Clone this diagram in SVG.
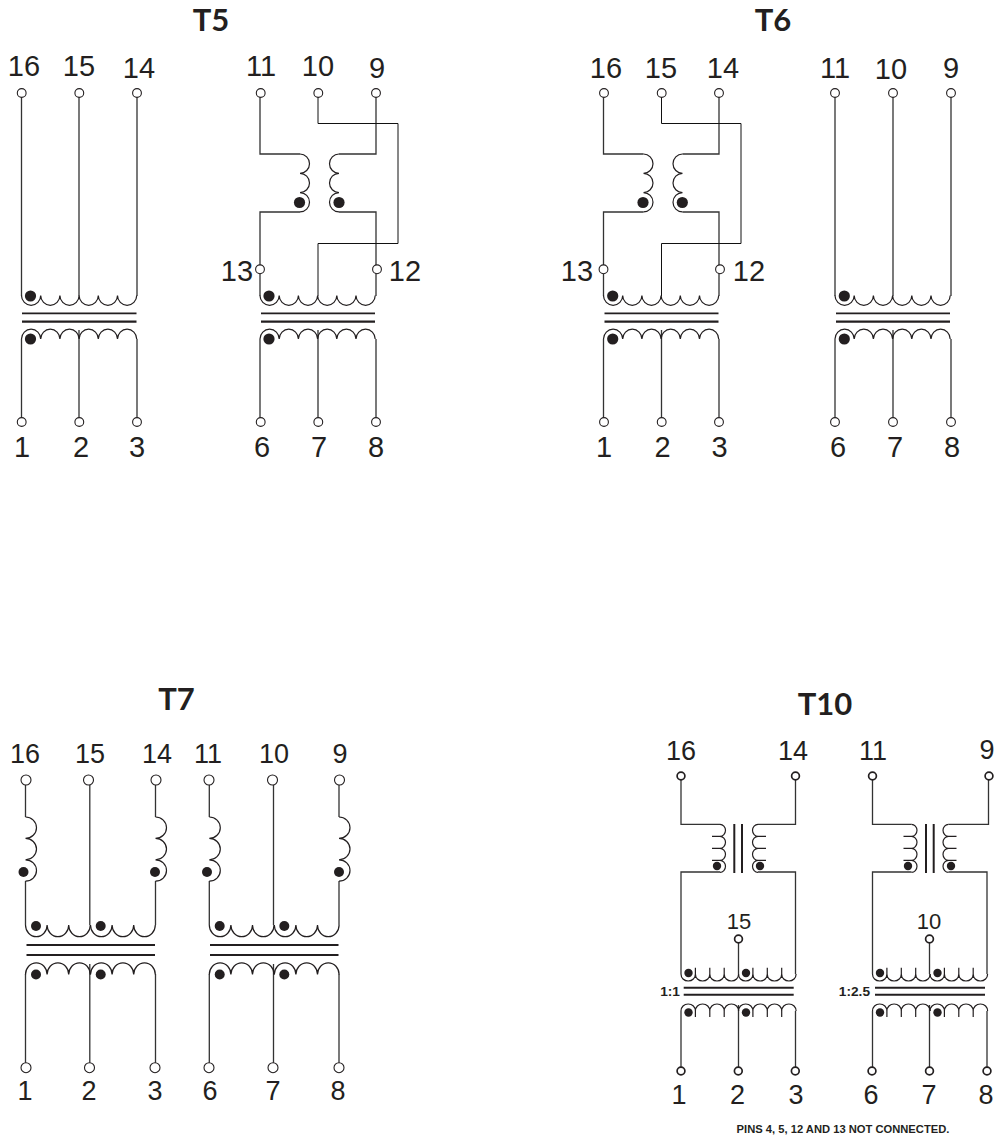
<svg xmlns="http://www.w3.org/2000/svg" width="997" height="1137" viewBox="0 0 997 1137">
<style>
text{fill:#231f20;font-family:"Liberation Sans",Arial,sans-serif;text-anchor:middle}
.l{font-size:29px}.m{font-size:27px}.s{font-size:22px}
.t{font-family:Lato,"Liberation Sans",sans-serif;font-weight:700;font-size:31px}
.b{font-weight:700;font-size:13.7px;text-anchor:end}
.n{font-weight:700;font-size:11.2px}
path,line{fill:none;stroke:#231f20;stroke-width:1.2}
.w{stroke:#333;stroke-width:1.3}
.x{stroke:#111;stroke-width:1}
.bar{stroke-width:2}.bar1{stroke-width:1.7}.bart{stroke-width:2.2}
circle{fill:#fff;stroke:#231f20;stroke-width:1.1}
.h{stroke-width:1.7}
.d{fill:#231f20;stroke:none}
</style>
<defs>
<path id="wd" d="M0,0c0,5.4 4.3,9.8 9.6,9.8s9.6,-4.4 9.6,-9.8c0,5.4 4.3,9.8 9.6,9.8s9.6,-4.4 9.6,-9.8c0,5.4 4.3,9.8 9.6,9.8s9.6,-4.4 9.6,-9.8c0,5.4 4.3,9.8 9.6,9.8s9.6,-4.4 9.6,-9.8c0,5.4 4.3,9.8 9.6,9.8s9.6,-4.4 9.6,-9.8c0,5.4 4.3,9.8 9.6,9.8s9.6,-4.4 9.6,-9.8"/>
<path id="wu" d="M0,0c0,-5.4 4.3,-9.8 9.6,-9.8s9.6,4.4 9.6,9.8c0,-5.4 4.3,-9.8 9.6,-9.8s9.6,4.4 9.6,9.8c0,-5.4 4.3,-9.8 9.6,-9.8s9.6,4.4 9.6,9.8c0,-5.4 4.3,-9.8 9.6,-9.8s9.6,4.4 9.6,9.8c0,-5.4 4.3,-9.8 9.6,-9.8s9.6,4.4 9.6,9.8c0,-5.4 4.3,-9.8 9.6,-9.8s9.6,4.4 9.6,9.8"/>
<path id="cr" d="M0,0c5.2,0 9.5,4.3 9.5,9.65s-4.3,9.65 -9.5,9.65c5.2,0 9.5,4.3 9.5,9.65s-4.3,9.65 -9.5,9.65c5.2,0 9.5,4.3 9.5,9.65s-4.3,9.65 -9.5,9.65"/>
<path id="cl" d="M0,0c-5.2,0 -9.5,4.3 -9.5,9.65s4.3,9.65 9.5,9.65c-5.2,0 -9.5,4.3 -9.5,9.65s4.3,9.65 9.5,9.65c-5.2,0 -9.5,4.3 -9.5,9.65s4.3,9.65 9.5,9.65"/>
<path id="w7d" d="M0,0c0,6.4 4.8,11.7 10.8,11.7s10.8,-5.3 10.8,-11.7c0,6.4 4.8,11.7 10.8,11.7s10.8,-5.3 10.8,-11.7c0,6.4 4.8,11.7 10.8,11.7s10.8,-5.3 10.8,-11.7"/>
<path id="w7u" d="M0,0c0,-6.4 4.8,-11.7 10.8,-11.7s10.8,5.3 10.8,11.7c0,-6.4 4.8,-11.7 10.8,-11.7s10.8,5.3 10.8,11.7c0,-6.4 4.8,-11.7 10.8,-11.7s10.8,5.3 10.8,11.7"/>
<path id="c7" d="M0,0c6,0 11,4.8 11,10.7s-5,10.7 -11,10.7c6,0 11,4.8 11,10.7s-5,10.7 -11,10.7c6,0 11,4.8 11,10.7s-5,10.7 -11,10.7"/>
<path id="w10d" d="M0,0c0,4 3,7 7.2,7s7.2,-3 7.2,-7V-6.3V0c0,4 3,7 7.2,7s7.2,-3 7.2,-7V-6.3V0c0,4 3,7 7.2,7s7.2,-3 7.2,-7V-6.3V0c0,4 3,7 7.2,7s7.2,-3 7.2,-7"/>
<path id="w10u" d="M0,0c0,-4 3,-7 7.2,-7s7.2,3 7.2,7V6V0c0,-4 3,-7 7.2,-7s7.2,3 7.2,7V6V0c0,-4 3,-7 7.2,-7s7.2,3 7.2,7V6V0c0,-4 3,-7 7.2,-7s7.2,3 7.2,7"/>
<path id="c10r" d="M0,0c3,0 5.5,2.7 5.5,6s-2.5,6 -5.5,6H-8H0c3,0 5.5,2.7 5.5,6s-2.5,6 -5.5,6H-8H0c3,0 5.5,2.7 5.5,6s-2.5,6 -5.5,6H-8H0c3,0 5.5,2.7 5.5,6s-2.5,6 -5.5,6"/>
<path id="c10l" d="M0,0c-3,0 -5.5,2.7 -5.5,6s2.5,6 5.5,6H8H0c-3,0 -5.5,2.7 -5.5,6s2.5,6 5.5,6H8H0c-3,0 -5.5,2.7 -5.5,6s2.5,6 5.5,6H8H0c-3,0 -5.5,2.7 -5.5,6s2.5,6 5.5,6"/>
</defs>
<rect width="997" height="1137" fill="#fff"/>

<g id="connectors">
<path class="w" d="M21.5,97V296M79,97V296M137,97V296M21.5,339V418M79,330V418M137,339V418"/>
<path class="w" d="M260,97V154H300M376,97V154H339M300,212H260V296M339,212H376V296M260,339V418M318,330V418M376,339V418"/>
<path class="x" d="M318,97V123.5H398V243.5H318V296"/>
<path class="w" d="M603.5,97V154H643.5M719,97V154H682.5M643.5,212H603.5V296M682.5,212H719V296M603.5,339V418M661.5,330V418M719,339V418"/>
<path class="x" d="M661.5,97V123.5H741V243.5H661.5V296"/>
<path class="w" d="M835,97V296M893,97V296M951,97V296M835,339V418M893,330V418M951,339V418"/>
<path class="w" d="M25.5,785V817M25.5,881V925M89.8,785V925M155.5,785V817M155.5,881V925M25.5,974V1063M89.8,964V1063M155.5,974V1063"/>
<path class="w" d="M209.3,785V817M209.3,881V925M273.5,785V925M339,785V817M339,881V925M209.3,974V1063M273.5,964V1063M339,974V1063"/>
<path class="w" d="M681,780V824.3H720M795.5,780V824.3H758M720,872H681V974M758,872H795.5V974M738.5,943V974M681,1011V1067M738.5,1005V1067M795.5,1011V1067"/>
<path class="w" d="M872.5,780V824.3H911.5M988.5,780V824.3H948.5M911.5,872H872.5V974M948.5,872H987V974M929.5,943V974M872.5,1011V1067M929.5,1005V1067M987,1011V1067"/>
</g>

<g id="T5">
<text class="t" x="211" y="30.7">T5</text>
<g id="T5-left-transformer">
<use href="#wd" x="21.5" y="295.5"/><use href="#wu" x="21.5" y="339"/>
<line class="bar1" x1="22" y1="313.3" x2="136.5" y2="313.3"/><line class="bart" x1="22" y1="321.7" x2="136.5" y2="321.7"/>
<circle class="d" cx="30.5" cy="296" r="5.6"/><circle class="d" cx="30.5" cy="339" r="5.6"/>
</g>
<g id="T5-right-transformer">
<use href="#cr" x="300" y="154"/><use href="#cl" x="339" y="154"/>
<circle class="d" cx="299.5" cy="202.5" r="5.6"/><circle class="d" cx="339" cy="202.5" r="5.6"/>
<use href="#wd" x="260" y="295.5"/><use href="#wu" x="260" y="339"/>
<line class="bar1" x1="261" y1="313.3" x2="375" y2="313.3"/><line class="bart" x1="261" y1="321.7" x2="375" y2="321.7"/>
<circle class="d" cx="269" cy="296" r="5.6"/><circle class="d" cx="269" cy="339" r="5.6"/>
</g>
<g id="T5-p16"><circle cx="21.7" cy="93" r="4.4"/><text class="l" x="24" y="76">16</text></g>
<g id="T5-p15"><circle cx="79.3" cy="93" r="4.4"/><text class="l" x="79" y="76">15</text></g>
<g id="T5-p14"><circle cx="137" cy="93" r="4.4"/><text class="l" x="139" y="78">14</text></g>
<g id="T5-p11"><circle cx="260.7" cy="93" r="4.4"/><text class="l" x="261" y="76">11</text></g>
<g id="T5-p10"><circle cx="318.3" cy="93" r="4.4"/><text class="l" x="318" y="76">10</text></g>
<g id="T5-p9"><circle cx="376" cy="93" r="4.4"/><text class="l" x="377" y="78">9</text></g>
<g id="T5-p13"><circle cx="260" cy="269.3" r="4.4"/><text class="l" x="237" y="281">13</text></g>
<g id="T5-p12"><circle cx="377" cy="269.3" r="4.4"/><text class="l" x="405" y="281">12</text></g>
<g id="T5-p1"><circle cx="21.7" cy="422" r="4.4"/><text class="l" x="22" y="457">1</text></g>
<g id="T5-p2"><circle cx="79.3" cy="422" r="4.4"/><text class="l" x="81" y="457">2</text></g>
<g id="T5-p3"><circle cx="137" cy="422" r="4.4"/><text class="l" x="137" y="457">3</text></g>
<g id="T5-p6"><circle cx="260.7" cy="422" r="4.4"/><text class="l" x="262" y="457">6</text></g>
<g id="T5-p7"><circle cx="318.3" cy="422" r="4.4"/><text class="l" x="319" y="457">7</text></g>
<g id="T5-p8"><circle cx="376" cy="422" r="4.4"/><text class="l" x="376" y="457">8</text></g>
</g>

<g id="T6">
<text class="t" x="773" y="31">T6</text>
<g id="T6-left-transformer">
<use href="#cr" x="643.5" y="154"/><use href="#cl" x="682.5" y="154"/>
<circle class="d" cx="643" cy="202.5" r="5.6"/><circle class="d" cx="682.3" cy="202.5" r="5.6"/>
<use href="#wd" x="603.5" y="295.5"/><use href="#wu" x="603.5" y="339"/>
<line class="bar1" x1="604.5" y1="313.3" x2="718.5" y2="313.3"/><line class="bart" x1="604.5" y1="321.7" x2="718.5" y2="321.7"/>
<circle class="d" cx="612.7" cy="296" r="5.6"/><circle class="d" cx="612.7" cy="339" r="5.6"/>
</g>
<g id="T6-right-transformer">
<use href="#wd" x="835" y="295.5"/><use href="#wu" x="835" y="339"/>
<line class="bar1" x1="836" y1="313.3" x2="950" y2="313.3"/><line class="bart" x1="836" y1="321.7" x2="950" y2="321.7"/>
<circle class="d" cx="844.3" cy="296" r="5.6"/><circle class="d" cx="844.3" cy="339" r="5.6"/>
</g>
<g id="T6-p16"><circle cx="604" cy="93" r="4.4"/><text class="l" x="606" y="78">16</text></g>
<g id="T6-p15"><circle cx="661.7" cy="93" r="4.4"/><text class="l" x="661" y="78">15</text></g>
<g id="T6-p14"><circle cx="719" cy="93" r="4.4"/><text class="l" x="723" y="78">14</text></g>
<g id="T6-p11"><circle cx="835" cy="93" r="4.4"/><text class="l" x="835" y="78">11</text></g>
<g id="T6-p10"><circle cx="893" cy="93" r="4.4"/><text class="l" x="891" y="79">10</text></g>
<g id="T6-p9"><circle cx="951" cy="93" r="4.4"/><text class="l" x="951" y="78">9</text></g>
<g id="T6-p13"><circle cx="603.5" cy="269.3" r="4.4"/><text class="l" x="577" y="281">13</text></g>
<g id="T6-p12"><circle cx="720" cy="269.3" r="4.4"/><text class="l" x="749" y="281">12</text></g>
<g id="T6-p1"><circle cx="604" cy="422" r="4.4"/><text class="l" x="604" y="457">1</text></g>
<g id="T6-p2"><circle cx="661.7" cy="422" r="4.4"/><text class="l" x="662.5" y="457">2</text></g>
<g id="T6-p3"><circle cx="719" cy="422" r="4.4"/><text class="l" x="719.5" y="457">3</text></g>
<g id="T6-p6"><circle cx="835" cy="422" r="4.4"/><text class="l" x="838" y="457">6</text></g>
<g id="T6-p7"><circle cx="893" cy="422" r="4.4"/><text class="l" x="895" y="457">7</text></g>
<g id="T6-p8"><circle cx="951" cy="422" r="4.4"/><text class="l" x="952" y="457">8</text></g>
</g>

<g id="T7">
<text class="t" x="176.5" y="710">T7</text>
<g id="T7-left-transformer">
<use href="#c7" x="25.5" y="817"/><use href="#c7" x="155.5" y="817"/>
<circle class="d" cx="23.5" cy="872" r="5"/><circle class="d" cx="155" cy="872" r="5"/>
<use href="#w7d" x="25.5" y="925"/><use href="#w7d" x="90.5" y="925"/>
<use href="#w7u" x="25.5" y="974.5"/><use href="#w7u" x="90.5" y="974.5"/>
<line class="bar" x1="26.5" y1="945" x2="155" y2="945"/><line class="bar" x1="26.5" y1="955" x2="155" y2="955"/>
<circle class="d" cx="36" cy="926" r="5"/><circle class="d" cx="100.7" cy="926" r="5"/>
<circle class="d" cx="36" cy="974.5" r="5"/><circle class="d" cx="100.7" cy="974.5" r="5"/>
</g>
<g id="T7-right-transformer">
<use href="#c7" x="209.3" y="817"/><use href="#c7" x="339" y="817"/>
<circle class="d" cx="207" cy="872" r="5"/><circle class="d" cx="339" cy="872" r="5"/>
<use href="#w7d" x="209.3" y="925"/><use href="#w7d" x="274.3" y="925"/>
<use href="#w7u" x="209.3" y="974.5"/><use href="#w7u" x="274.3" y="974.5"/>
<line class="bar" x1="210" y1="945" x2="338.5" y2="945"/><line class="bar" x1="210" y1="955" x2="338.5" y2="955"/>
<circle class="d" cx="219.7" cy="926" r="5"/><circle class="d" cx="284.3" cy="926" r="5"/>
<circle class="d" cx="219.7" cy="974.5" r="5"/><circle class="d" cx="284.3" cy="974.5" r="5"/>
</g>
<g id="T7-p16"><circle cx="26" cy="780" r="5"/><text class="m" x="25" y="762.7">16</text></g>
<g id="T7-p15"><circle cx="88.5" cy="780" r="5"/><text class="m" x="90" y="762.7">15</text></g>
<g id="T7-p14"><circle cx="156" cy="780" r="5"/><text class="m" x="157" y="762.7">14</text></g>
<g id="T7-p11"><circle cx="209" cy="780" r="5"/><text class="m" x="208" y="762.7">11</text></g>
<g id="T7-p10"><circle cx="272.5" cy="780" r="5"/><text class="m" x="274" y="762.7">10</text></g>
<g id="T7-p9"><circle cx="339.5" cy="780" r="5"/><text class="m" x="340" y="762.7">9</text></g>
<g id="T7-p1"><circle cx="26" cy="1067.7" r="5"/><text class="m" x="25" y="1100">1</text></g>
<g id="T7-p2"><circle cx="89.5" cy="1067.7" r="5"/><text class="m" x="89" y="1100">2</text></g>
<g id="T7-p3"><circle cx="155" cy="1067.7" r="5"/><text class="m" x="155" y="1100">3</text></g>
<g id="T7-p6"><circle cx="209" cy="1067.7" r="5"/><text class="m" x="210" y="1100">6</text></g>
<g id="T7-p7"><circle cx="273" cy="1067.7" r="5"/><text class="m" x="273" y="1100">7</text></g>
<g id="T7-p8"><circle cx="339" cy="1067.7" r="5"/><text class="m" x="338" y="1100">8</text></g>
</g>

<g id="T10">
<text class="t" x="825" y="715">T10</text>
<g id="T10-left-transformer">
<use href="#c10r" x="720" y="824.3"/><use href="#c10l" x="758" y="824.3"/>
<line class="bar" x1="734.3" y1="824" x2="734.3" y2="873"/><line class="bar" x1="742" y1="824" x2="742" y2="873"/>
<circle class="d" cx="717" cy="866" r="4.2"/><circle class="d" cx="760" cy="866" r="4.2"/>
<use href="#w10d" x="681" y="974"/><use href="#w10d" x="738.5" y="974"/>
<use href="#w10u" x="681" y="1011"/><use href="#w10u" x="738.5" y="1011"/>
<line class="bar" x1="683.7" y1="987.7" x2="793.7" y2="987.7"/><line class="bar" x1="683.7" y1="994.7" x2="793.7" y2="994.7"/>
<circle class="d" cx="688.5" cy="973" r="4.2"/><circle class="d" cx="746" cy="973" r="4.2"/>
<circle class="d" cx="688.5" cy="1012.5" r="4.2"/><circle class="d" cx="746" cy="1012.5" r="4.2"/>
<text class="b" x="680" y="996">1:1</text>
</g>
<g id="T10-right-transformer">
<use href="#c10r" x="911.5" y="824.3"/><use href="#c10l" x="948.5" y="824.3"/>
<line class="bar" x1="926" y1="824" x2="926" y2="873"/><line class="bar" x1="933.7" y1="824" x2="933.7" y2="873"/>
<circle class="d" cx="908" cy="866" r="4.2"/><circle class="d" cx="951" cy="866" r="4.2"/>
<use href="#w10d" x="872.5" y="974"/><use href="#w10d" x="930" y="974"/>
<use href="#w10u" x="872.5" y="1011"/><use href="#w10u" x="930" y="1011"/>
<line class="bar" x1="875" y1="987.7" x2="985" y2="987.7"/><line class="bar" x1="875" y1="994.7" x2="985" y2="994.7"/>
<circle class="d" cx="880" cy="973" r="4.2"/><circle class="d" cx="937.5" cy="973" r="4.2"/>
<circle class="d" cx="880" cy="1012.5" r="4.2"/><circle class="d" cx="937.5" cy="1012.5" r="4.2"/>
<text class="b" x="870" y="996">1:2.5</text>
</g>
<g id="T10-p16"><circle class="h" cx="681" cy="776" r="3.9"/><text class="m" x="681" y="760">16</text></g>
<g id="T10-p14"><circle class="h" cx="795.5" cy="776" r="3.9"/><text class="m" x="793" y="760">14</text></g>
<g id="T10-p11"><circle class="h" cx="872.5" cy="776" r="3.9"/><text class="m" x="873" y="760">11</text></g>
<g id="T10-p9"><circle class="h" cx="989" cy="776" r="3.9"/><text class="m" x="987" y="759">9</text></g>
<g id="T10-p15"><circle class="h" cx="738.5" cy="939" r="3.9"/><text class="s" x="739" y="929">15</text></g>
<g id="T10-p10"><circle class="h" cx="929.5" cy="939" r="3.9"/><text class="s" x="929" y="929">10</text></g>
<g id="T10-p1"><circle class="h" cx="681" cy="1071" r="3.9"/><text class="m" x="679" y="1104">1</text></g>
<g id="T10-p2"><circle class="h" cx="738.3" cy="1071" r="3.9"/><text class="m" x="737.5" y="1104">2</text></g>
<g id="T10-p3"><circle class="h" cx="795.3" cy="1071" r="3.9"/><text class="m" x="796" y="1104">3</text></g>
<g id="T10-p6"><circle class="h" cx="872" cy="1071" r="3.9"/><text class="m" x="871" y="1104">6</text></g>
<g id="T10-p7"><circle class="h" cx="929.5" cy="1071" r="3.9"/><text class="m" x="929" y="1104">7</text></g>
<g id="T10-p8"><circle class="h" cx="987" cy="1071" r="3.9"/><text class="m" x="986" y="1104">8</text></g>
<text class="n" x="843" y="1132.5">PINS 4, 5, 12 AND 13 NOT CONNECTED.</text>
</g>
</svg>
